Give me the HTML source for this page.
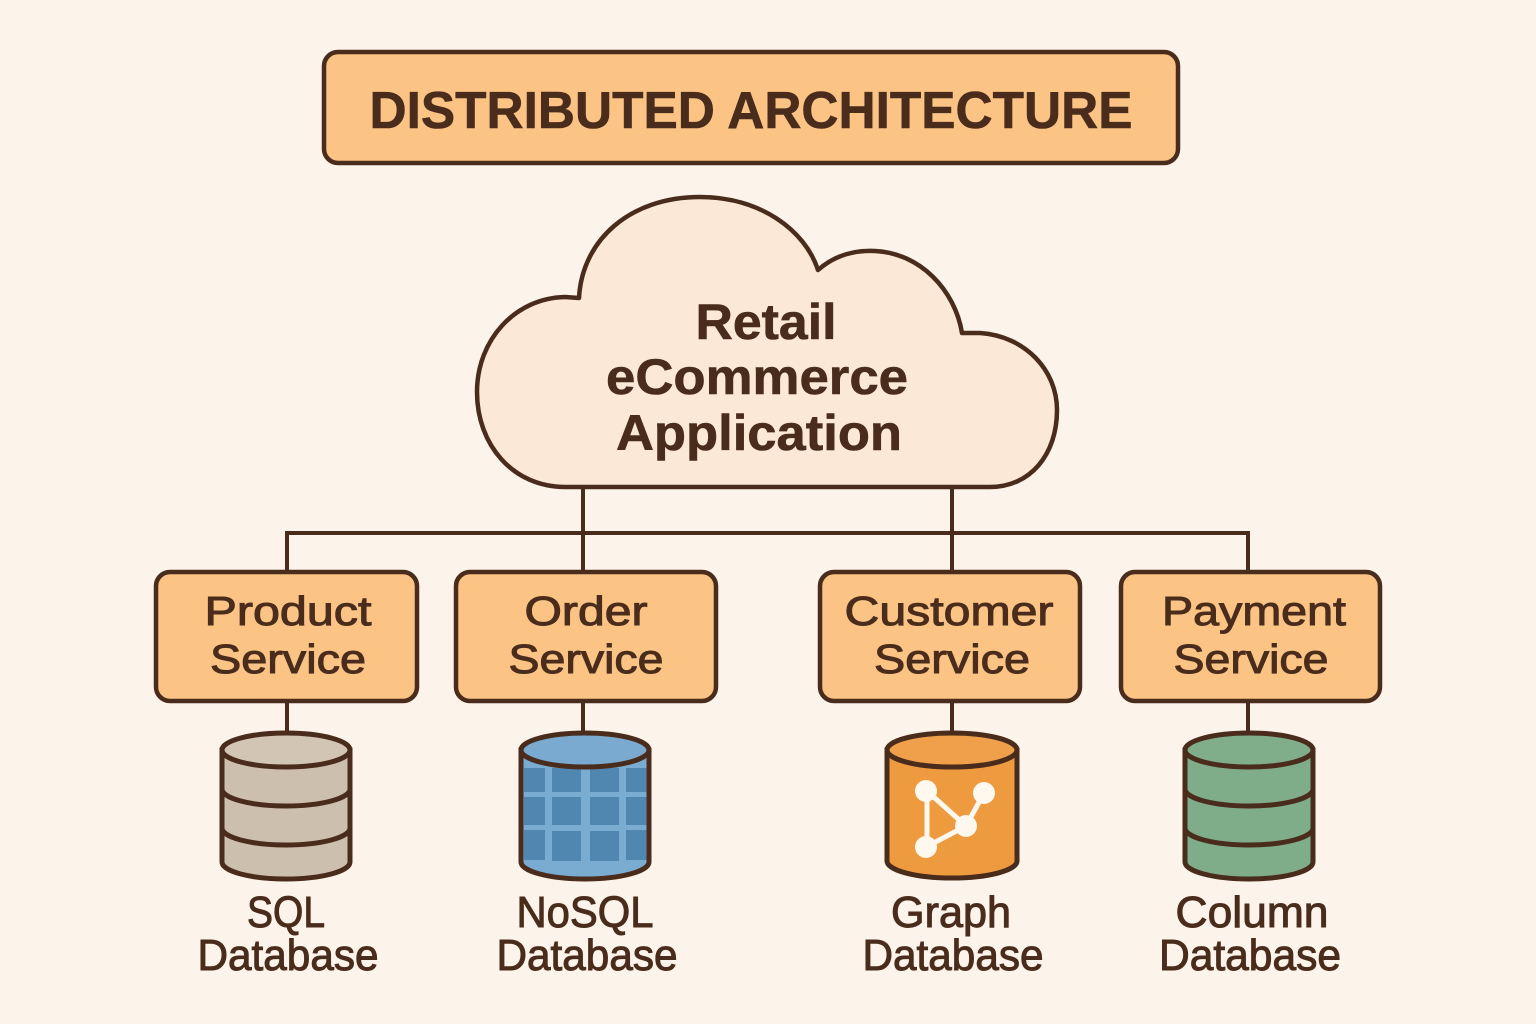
<!DOCTYPE html>
<html><head><meta charset="utf-8"><style>
html,body{margin:0;padding:0;background:#fcf4ea;}
svg{display:block;}
text{font-family:"Liberation Sans",sans-serif;fill:#4a2c1c;}
</style></head><body>
<svg width="1536" height="1024" viewBox="0 0 1536 1024" xmlns="http://www.w3.org/2000/svg">
<defs>
<clipPath id="nb"><path d="M521 750 L521 862 A64 17 0 0 0 649 862 L649 750 Z"/></clipPath>
</defs>
<rect width="1536" height="1024" fill="#fcf4ea"/>

<!-- Title -->
<rect x="324" y="52" width="854" height="111" rx="14" fill="#fbc384" stroke="#4a2c1c" stroke-width="4.5"/>
<text x="751" y="128" text-anchor="middle" font-size="52" font-weight="bold" textLength="763" lengthAdjust="spacingAndGlyphs" stroke="#4a2c1c" stroke-width="0.6">DISTRIBUTED ARCHITECTURE</text>

<!-- Connectors -->
<g stroke="#4a2c1c" stroke-width="4" fill="none">
<line x1="287" y1="533" x2="1248" y2="533"/>
<line x1="583" y1="487" x2="583" y2="572"/>
<line x1="952" y1="487" x2="952" y2="572"/>
<line x1="287" y1="531" x2="287" y2="572"/>
<line x1="1248" y1="531" x2="1248" y2="572"/>
<line x1="287" y1="700" x2="287" y2="736"/>
<line x1="583" y1="700" x2="583" y2="736"/>
<line x1="952" y1="700" x2="952" y2="736"/>
<line x1="1248" y1="700" x2="1248" y2="736"/>
</g>

<!-- Cloud -->
<path d="M565 487 C513 487 477 445 477 392 C477 340 515 298 565 297 L579 298 C582 240 630 197 700 197 C760 197 805 230 818 270 C835 255 855 250 875 251 C920 253 955 290 962 333 L980 333 C1025 336 1057 370 1057 410 C1057 455 1030 487 990 487 Z" fill="#fbe8d6" stroke="#4a2c1c" stroke-width="4.5" stroke-linejoin="round"/>
<g font-size="50" font-weight="bold" text-anchor="middle" stroke="#4a2c1c" stroke-width="0.6">
<text x="766" y="339" textLength="141" lengthAdjust="spacingAndGlyphs">Retail</text>
<text x="757" y="394" textLength="302" lengthAdjust="spacingAndGlyphs">eCommerce</text>
<text x="759" y="450" textLength="286" lengthAdjust="spacingAndGlyphs">Application</text>
</g>

<!-- Service boxes -->
<g fill="#fbc384" stroke="#4a2c1c" stroke-width="4.5">
<rect x="156" y="572" width="261" height="129" rx="14"/>
<rect x="456" y="572" width="260" height="129" rx="14"/>
<rect x="820" y="572" width="260" height="129" rx="14"/>
<rect x="1121" y="572" width="259" height="129" rx="14"/>
</g>
<g font-size="41" text-anchor="middle" stroke="#4a2c1c" stroke-width="1">
<text x="288" y="625" textLength="167" lengthAdjust="spacingAndGlyphs">Product</text>
<text x="288" y="673" textLength="156" lengthAdjust="spacingAndGlyphs">Service</text>
<text x="586" y="625" textLength="123" lengthAdjust="spacingAndGlyphs">Order</text>
<text x="586" y="673" textLength="155" lengthAdjust="spacingAndGlyphs">Service</text>
<text x="949" y="625" textLength="209" lengthAdjust="spacingAndGlyphs">Customer</text>
<text x="952" y="673" textLength="156" lengthAdjust="spacingAndGlyphs">Service</text>
<text x="1254" y="625" textLength="184" lengthAdjust="spacingAndGlyphs">Payment</text>
<text x="1251" y="673" textLength="155" lengthAdjust="spacingAndGlyphs">Service</text>
</g>

<!-- SQL cylinder -->
<g stroke="#4a2c1c" stroke-width="5">
<path d="M222 750 L222 862 A64 17 0 0 0 350 862 L350 750 Z" fill="#cdbfae"/>
<path d="M222 789 A64 17 0 0 0 350 789" fill="none"/>
<path d="M222 828 A64 17 0 0 0 350 828" fill="none"/>
<ellipse cx="286" cy="750" rx="64" ry="17" fill="#d3c5b4"/>
</g>

<!-- NoSQL cylinder -->
<path d="M521 750 L521 862 A64 17 0 0 0 649 862 L649 750 Z" fill="#7aabd0"/>
<g clip-path="url(#nb)" fill="#5087b1">
<rect x="524" y="768" width="21" height="24"/>
<rect x="552" y="768" width="29" height="24"/>
<rect x="590" y="768" width="29" height="24"/>
<rect x="626" y="768" width="21" height="24"/>
<rect x="524" y="797" width="21" height="28"/>
<rect x="552" y="797" width="29" height="28"/>
<rect x="590" y="797" width="29" height="28"/>
<rect x="626" y="797" width="21" height="28"/>
<rect x="524" y="830" width="21" height="30"/>
<rect x="552" y="831" width="29" height="30"/>
<rect x="590" y="831" width="29" height="30"/>
<rect x="626" y="830" width="21" height="30"/>
</g>
<g stroke="#4a2c1c" stroke-width="5">
<path d="M521 750 L521 862 A64 17 0 0 0 649 862 L649 750 Z" fill="none"/>
<ellipse cx="585" cy="750" rx="64" ry="17" fill="#7aaad0"/>
</g>

<!-- Graph cylinder -->
<g stroke="#4a2c1c" stroke-width="5">
<path d="M887 750 L887 861 A65 17 0 0 0 1017 861 L1017 750 Z" fill="#ee9a3e"/>
<ellipse cx="952" cy="750" rx="65" ry="17" fill="#f0a04a"/>
</g>
<g stroke="#fff8ee" stroke-width="5" fill="none" stroke-linecap="round">
<line x1="927" y1="791" x2="966" y2="826"/>
<line x1="984" y1="793" x2="966" y2="826"/>
<line x1="966" y1="826" x2="926" y2="847"/>
<line x1="927" y1="791" x2="927" y2="847"/>
</g>
<g fill="#fff8ee">
<circle cx="926" cy="791" r="11"/>
<circle cx="984" cy="793" r="11"/>
<circle cx="966" cy="826" r="11"/>
<circle cx="926" cy="847" r="11"/>
</g>

<!-- Column cylinder -->
<g stroke="#4a2c1c" stroke-width="5">
<path d="M1185 750 L1185 862 A64 17 0 0 0 1313 862 L1313 750 Z" fill="#7fad8a"/>
<path d="M1185 789 A64 17 0 0 0 1313 789" fill="none"/>
<path d="M1185 828 A64 17 0 0 0 1313 828" fill="none"/>
<ellipse cx="1249" cy="750" rx="64" ry="17" fill="#80ae8b"/>
</g>

<!-- DB labels -->
<g font-size="44" text-anchor="middle" stroke="#4a2c1c" stroke-width="1">
<text x="286" y="927" textLength="78" lengthAdjust="spacingAndGlyphs">SQL</text>
<text x="288" y="970" textLength="181" lengthAdjust="spacingAndGlyphs">Database</text>
<text x="585" y="927" textLength="137" lengthAdjust="spacingAndGlyphs">NoSQL</text>
<text x="587" y="970" textLength="181" lengthAdjust="spacingAndGlyphs">Database</text>
<text x="951" y="927" textLength="120" lengthAdjust="spacingAndGlyphs">Graph</text>
<text x="953" y="970" textLength="181" lengthAdjust="spacingAndGlyphs">Database</text>
<text x="1252" y="927" textLength="153" lengthAdjust="spacingAndGlyphs">Column</text>
<text x="1250" y="970" textLength="182" lengthAdjust="spacingAndGlyphs">Database</text>
</g>
</svg>
</body></html>
